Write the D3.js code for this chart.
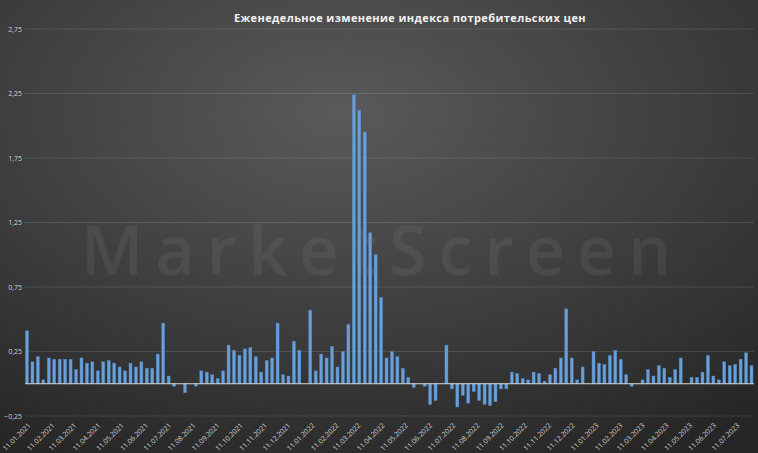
<!DOCTYPE html>
<html>
<head>
<meta charset="utf-8">
<script src="https://cdn.jsdelivr.net/npm/d3@7"></script>
<style>
  html, body { margin: 0; padding: 0; background: #333; }
  svg { display: block; }
</style>
</head>
<body>
<svg id="chart" width="758" height="453"></svg>
<script>
// weekly CPI change, %, starting 11.01.2021
const startDate = new Date(2021, 0, 11);
const values = [
  0.41, 0.17, 0.21, 0.03, 0.20, 0.19, 0.19, 0.19, 0.19, 0.11, 0.20, 0.16, 0.17, 0.10,
  0.17, 0.18, 0.16, 0.13, 0.10, 0.16, 0.13, 0.17, 0.12, 0.12, 0.23, 0.47, 0.06, -0.02,
  0.00, -0.07, 0.00, -0.02, 0.10, 0.09, 0.07, 0.04, 0.10, 0.30, 0.26, 0.22, 0.27, 0.28,
  0.21, 0.09, 0.18, 0.20, 0.47, 0.07, 0.06, 0.33, 0.26, 0.00, 0.57, 0.10, 0.23, 0.20,
  0.29, 0.13, 0.25, 0.46, 2.24, 2.12, 1.95, 1.17, 1.00, 0.67, 0.20, 0.25, 0.21, 0.12,
  0.05, -0.03, 0.00, -0.02, -0.16, -0.13, 0.00, 0.30, -0.04, -0.18, -0.09, -0.15, -0.06, -0.13,
  -0.16, -0.17, -0.14, -0.04, -0.04, 0.09, 0.08, 0.04, 0.03, 0.09, 0.08, 0.02, 0.07, 0.12,
  0.20, 0.58, 0.20, 0.03, 0.13, 0.00, 0.25, 0.16, 0.15, 0.22, 0.26, 0.19, 0.07, -0.02,
  0.00, 0.03, 0.11, 0.06, 0.14, 0.12, 0.05, 0.11, 0.20, 0.00, 0.05, 0.05, 0.09, 0.22,
  0.06, 0.03, 0.17, 0.14, 0.15, 0.19, 0.24, 0.14
];
const yTicks = [-0.25, 0.25, 0.75, 1.25, 1.75, 2.25, 2.75];
const monthLabels = d3.timeMonths(new Date(2021, 0, 1), new Date(2023, 7, 1))
  .map(d => new Date(d.getFullYear(), d.getMonth(), 11));

const width = 758, height = 453;
const svg = d3.select("#chart");

// background
const defs = svg.append("defs");
const grad = defs.append("radialGradient").attr("id", "bg")
  .attr("cx", "45%").attr("cy", "25%").attr("r", "85%");
grad.append("stop").attr("offset", "0%").attr("stop-color", "#5a5a5a");
grad.append("stop").attr("offset", "100%").attr("stop-color", "#262626");
svg.append("rect").attr("width", width).attr("height", height).attr("fill", "url(#bg)");

const x = d3.scaleBand()
  .domain(d3.range(values.length))
  .range([25.5, 753])
  .paddingInner(0.45);
const y = d3.scaleLinear().domain([-0.25, 2.75]).range([416, 29]);

// watermark
svg.append("text")
  .attr("x", 382).attr("y", 275)
  .attr("text-anchor", "middle")
  .attr("font-family", "Open Sans, sans-serif")
  .attr("font-size", 68)
  .attr("font-weight", 600)
  .attr("letter-spacing", 12)
  .attr("fill", "#ffffff").attr("fill-opacity", 0.06)
  .text("MarketScreen");

// grid
svg.selectAll(".grid").data(yTicks).enter().append("line")
  .attr("x1", 25).attr("x2", 754)
  .attr("y1", d => y(d)).attr("y2", d => y(d))
  .attr("stroke", "#ffffff").attr("stroke-opacity", 0.12);

svg.selectAll(".ylab").data(yTicks).enter().append("text")
  .attr("x", 22).attr("y", d => y(d) + 2.5)
  .attr("text-anchor", "end")
  .attr("font-family", "Open Sans, sans-serif")
  .attr("font-size", 7)
  .attr("fill", "#cfcfcf")
  .text(d => d3.format(".2f")(d).replace(".", ","));

// bars
svg.selectAll(".bar").data(values).enter().append("rect")
  .attr("x", (d, i) => x(i))
  .attr("width", x.bandwidth())
  .attr("y", d => y(Math.max(0, d)))
  .attr("height", d => Math.abs(y(d) - y(0)))
  .attr("fill", "#6a9fd8")
  .attr("stroke", "#4f86c4").attr("stroke-width", 0.4);

// zero axis
svg.append("line")
  .attr("x1", 25).attr("x2", 754)
  .attr("y1", y(0)).attr("y2", y(0))
  .attr("stroke", "#d9d9d9").attr("stroke-width", 1);

// month labels, placed by week offset from the first bar
const weekPos = d => {
  const w = (d - startDate) / (7 * 864e5);
  return x(0) + x.bandwidth() / 2 + w * x.step();
};
svg.selectAll(".xlab").data(monthLabels).enter().append("text")
  .attr("transform", d => `translate(${weekPos(d) + 4},${y(-0.25) + 10}) rotate(-45)`)
  .attr("text-anchor", "end")
  .attr("font-family", "Open Sans, sans-serif")
  .attr("font-size", 7)
  .attr("fill", "#cfcfcf")
  .text(d3.timeFormat("%d.%m.%Y"));

// title
svg.append("text")
  .attr("x", 410).attr("y", 22)
  .attr("text-anchor", "middle")
  .attr("font-family", "Open Sans, sans-serif")
  .attr("font-size", 11)
  .attr("font-weight", "bold")
  .attr("letter-spacing", 0.4)
  .attr("fill", "#f2f2f2")
  .text("Еженедельное изменение индекса потребительских цен");
</script>
</body>
</html>
